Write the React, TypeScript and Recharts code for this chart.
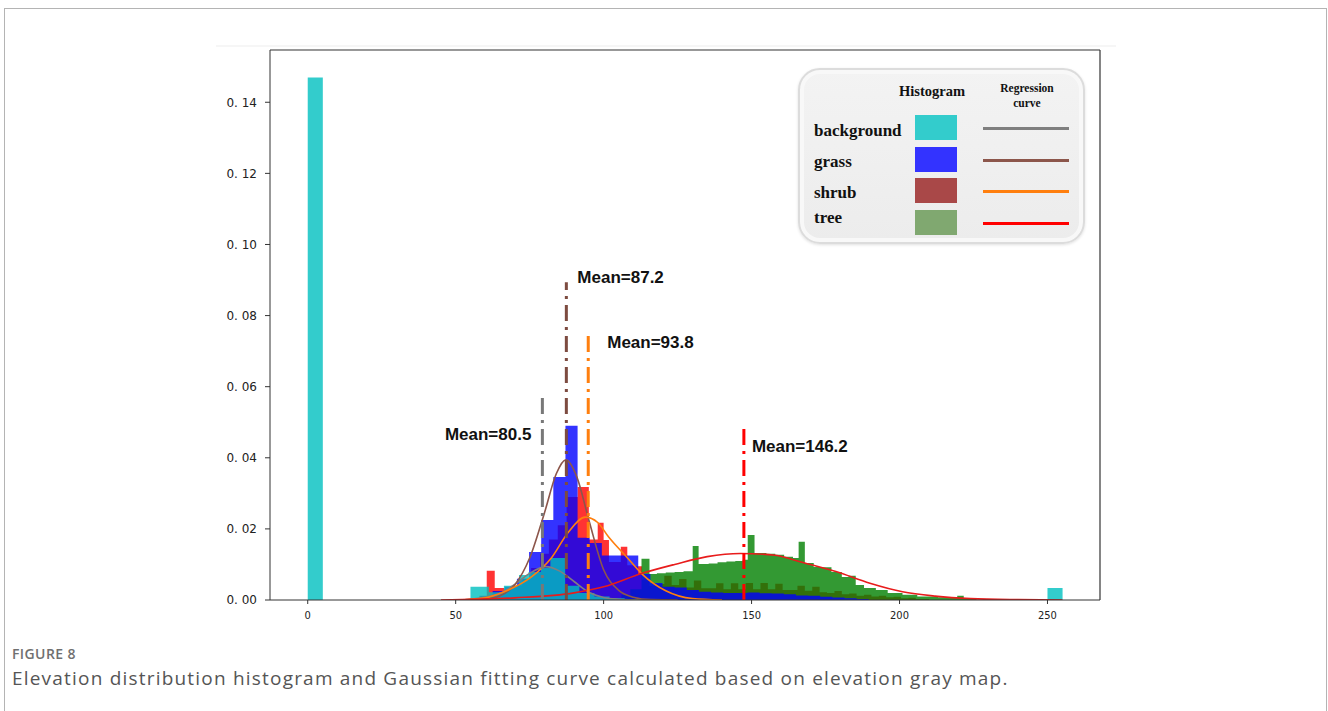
import React from "react";
import {
  ComposedChart,
  Area,
  Line,
  XAxis,
  YAxis,
  ReferenceLine,
  ReferenceDot,
} from "recharts";

const X_MIN = -12.75;
const X_MAX = 267.75;
const Y_MAX = 0.1547;
const X_TICKS = [0, 50, 100, 150, 200, 250];
const Y_TICKS = [0, 0.02, 0.04, 0.06, 0.08, 0.1, 0.12, 0.14];

// histogram runs: left edge of each bin and its density (last entry closes the run)
const backgroundEdges = [0, 5.1, 55, 61.2, 66.3, 71.4, 74.6, 78.8, 82, 87, 91.8, 96.9, 102, 107.1, 112.2, 250, 255.1];
const backgroundHeights = [0.147, 0, 0.0037, 0.0022, 0.004, 0.007, 0.0079, 0.009, 0.0118, 0.004, 0.002, 0.001, 0.0005, 0.0003, 0, 0.0034, 0];

const grassEdges = [54.3, 58.4, 62.5, 66.6, 70.7, 74.8, 78.9, 83.0, 87.1, 91.2, 95.3, 99.4, 103.5, 107.6, 111.7, 115.8, 119.9, 124.0, 128.1, 132.2, 136.3, 140.4, 144.5, 148.6, 152.7, 156.8, 160.9, 165.0, 169.1, 173.2, 177.3, 181.4, 185.5, 189.6];
const grassHeights = [0.0003, 0.001, 0.0025, 0.0037, 0.006, 0.0135, 0.0225, 0.0346, 0.049, 0.0175, 0.016, 0.0125, 0.0125, 0.0125, 0.0073, 0.0048, 0.0037, 0.0035, 0.0028, 0.0023, 0.0021, 0.002, 0.002, 0.0021, 0.0019, 0.0018, 0.0016, 0.0013, 0.0012, 0.0009, 0.0007, 0.0005, 0.0003, 0];

const shrubEdges = [55, 58, 60.5, 63.2, 66.5, 69.5, 72.5, 75.5, 78.5, 81.5, 84.5, 87.5, 91.2, 95, 98, 100, 101.8, 105.8, 108, 110.5, 113, 115.5, 118, 120.5, 123, 125.5, 128, 130.5, 133, 135.5, 138, 140.5, 143, 145.5, 148, 150.5, 153, 155.5, 158, 160.5, 163, 165.5, 168, 170.5, 173, 175.5, 178, 180.5, 183, 185.5, 188, 190.5, 193, 195.5, 198, 200.5, 203, 205.5, 210];
const shrubHeights = [0.0005, 0.0012, 0.0082, 0.0034, 0.003, 0.004, 0.006, 0.009, 0.013, 0.017, 0.021, 0.029, 0.0318, 0.017, 0.0217, 0.0169, 0.0107, 0.015, 0.0098, 0.0095, 0.006, 0.004, 0.0045, 0.0068, 0.0042, 0.0059, 0.0035, 0.0055, 0.0033, 0.0033, 0.0047, 0.003, 0.0047, 0.003, 0.0048, 0.003, 0.0048, 0.003, 0.0046, 0.0028, 0.0028, 0.004, 0.0026, 0.0037, 0.0022, 0.002, 0.0025, 0.0016, 0.0018, 0.0012, 0.0015, 0.001, 0.0012, 0.0008, 0.0009, 0.0005, 0.0006, 0.0003, 0];

const treeEdges = [106, 109, 112.8, 115.5, 118, 121, 124, 127, 130.1, 132.1, 135.5, 138.5, 141.5, 144.5, 147, 148.7, 151, 155, 158, 161, 164, 165.9, 168, 171, 174, 177, 180.5, 182.8, 185.2, 188, 192, 196, 201, 206, 213, 219.5, 221.7, 226];
const treeHeights = [0.0015, 0.003, 0.0116, 0.0073, 0.0075, 0.0077, 0.0079, 0.0081, 0.0152, 0.0101, 0.0103, 0.0106, 0.0108, 0.011, 0.0113, 0.0183, 0.0132, 0.013, 0.0127, 0.0122, 0.0118, 0.0164, 0.0104, 0.0093, 0.0092, 0.0079, 0.0065, 0.0068, 0.0042, 0.0034, 0.0028, 0.002, 0.0015, 0.001, 0.0008, 0.0012, 0.0005, 0];

// fitted curves
const backgroundCurveX = [50, 55, 60, 65, 70, 75, 80.5, 85, 90, 95, 100, 105, 110, 118];
const backgroundCurveY = [0, 0.0002, 0.0008, 0.0019, 0.0044, 0.0075, 0.0094, 0.0082, 0.0052, 0.0022, 0.0007, 0.0002, 0.00005, 0];
const grassCurveX = [50, 60, 65, 70, 75, 80, 84, 87.2, 91, 95, 100, 105, 110, 116, 125];
const grassCurveY = [0, 0.0003, 0.0012, 0.0043, 0.0118, 0.0245, 0.0355, 0.0394, 0.0345, 0.0225, 0.0085, 0.0028, 0.0008, 0.0001, 0];
const shrubCurveX = [50, 55, 61, 67.8, 75.6, 82.4, 88, 93.8, 98, 101.7, 108, 113, 121, 130, 140];
const shrubCurveY = [0, 0.0002, 0.0008, 0.0028, 0.0065, 0.0119, 0.019, 0.0233, 0.0218, 0.0177, 0.0119, 0.0073, 0.0026, 0.0004, 0];
const treeCurveX = [45, 70, 90, 100, 113, 124, 135, 146.2, 158, 167, 178.5, 190, 201, 212, 224, 240, 255];
const treeCurveY = [0, 0.0006, 0.002, 0.0037, 0.0075, 0.01, 0.0122, 0.0131, 0.0126, 0.0106, 0.008, 0.0047, 0.0023, 0.0011, 0.0004, 0.0001, 0];

const meanLineX = [79.3, 87.4, 94.8, 147.4];
const meanLineTop = [0.0582, 0.0894, 0.0754, 0.049];
const meanLabels = ["Mean=80.5", "Mean=87.2", "Mean=93.8", "Mean=146.2"];

const classNames = ["background", "grass", "shrub", "tree"];

const pairs = (xs: number[], ys: number[]) => xs.map((x, i) => ({ x, y: ys[i] }));

const histStyle = [
  { key: "shrub", data: pairs(shrubEdges, shrubHeights), fill: "#ff0000" },
  { key: "tree", data: pairs(treeEdges, treeHeights), fill: "#008000" },
  { key: "grass", data: pairs(grassEdges, grassHeights), fill: "#0000ff" },
  { key: "background", data: pairs(backgroundEdges, backgroundHeights), fill: "#00bfbf" },
];

const curveStyle = [
  { key: "bgc", data: pairs(backgroundCurveX, backgroundCurveY), stroke: "#7f7f7f" },
  { key: "grc", data: pairs(grassCurveX, grassCurveY), stroke: "#8c564b" },
  { key: "shc", data: pairs(shrubCurveX, shrubCurveY), stroke: "#ff7f0e" },
  { key: "trc", data: pairs(treeCurveX, treeCurveY), stroke: "#e81c1c" },
];

const meanColors = ["#787878", "#7d4b40", "#ff7f0e", "#ff0000"];
// pixel offsets of each mean label from the top of its line
const labelOffsets = [
  { dx: -11, dy: 47, anchor: "end" },
  { dx: 11, dy: 1, anchor: "start" },
  { dx: 19, dy: 16, anchor: "start" },
  { dx: 8, dy: 26, anchor: "start" },
];

const swatchColors = ["#33cccc", "#3333ff", "#a94848", "#80a870"];
const legendLineColors = ["#7f7f7f", "#8c564b", "#ff7f0e", "#ff0000"];
const legendRowTop = [61, 92, 123, 148];
const swatchTop = [45, 77, 108, 140];
const lineTop = [57, 89, 120, 152];

const LegendBox = () => (
  <div
    style={{
      position: "absolute",
      left: 798,
      top: 68,
      width: 287,
      height: 176,
      boxSizing: "border-box",
      borderRadius: 22,
      border: "2px solid #dcdcdc",
      background: "linear-gradient(#f3f3f3, #ececec)",
      boxShadow: "inset 0 0 0 4px #f8f8f8, 0 1px 3px rgba(0,0,0,0.12)",
      fontFamily: '"Liberation Serif", "Times New Roman", serif',
      fontWeight: "bold",
      color: "#111",
    }}
  >
    <div style={{ position: "absolute", left: 132, top: 21, transform: "translate(-50%, -50%)", fontSize: 14.5, whiteSpace: "nowrap" }}>
      Histogram
    </div>
    <div style={{ position: "absolute", left: 227, top: 26, transform: "translate(-50%, -50%)", fontSize: 11.5, lineHeight: "15px", textAlign: "center" }}>
      Regression
      <br />
      curve
    </div>
    {classNames.map((name, i) => (
      <React.Fragment key={name}>
        <div style={{ position: "absolute", left: 14, top: legendRowTop[i], transform: "translateY(-50%)", fontSize: 17 }}>
          {name}
        </div>
        <div style={{ position: "absolute", left: 115, top: swatchTop[i], width: 42, height: 25, background: swatchColors[i] }} />
        <div style={{ position: "absolute", left: 183, top: lineTop[i], width: 86, height: 3, background: legendLineColors[i] }} />
      </React.Fragment>
    ))}
  </div>
);

const MeanText = (i: number) => (p: any) => (
  <text
    x={p.cx + labelOffsets[i].dx}
    y={p.cy + labelOffsets[i].dy}
    textAnchor={labelOffsets[i].anchor as any}
    fontFamily='"Liberation Sans", Arial, sans-serif'
    fontWeight="bold"
    fontSize={17}
    fill="#111"
  >
    {meanLabels[i]}
  </text>
);

export default function App() {
  return (
    <div style={{ position: "absolute", left: 0, top: 0, width: 1328, height: 711, overflow: "hidden", background: "#fff", fontFamily: '"Liberation Sans", Arial, sans-serif' }}>
      <div style={{ position: "absolute", left: 4, top: 8, width: 1323, height: 760, boxSizing: "border-box", border: "1px solid #b4b4b4" }} />
      <div style={{ position: "absolute", left: 216, top: 45, width: 900, height: 2, background: "#f6f6f6" }} />
      <div style={{ position: "absolute", left: 0, top: 0 }}>
        <ComposedChart width={1328} height={711} margin={{ top: 50, right: 228, bottom: 81, left: 210 }}>
          <XAxis
            type="number"
            dataKey="x"
            domain={[X_MIN, X_MAX]}
            ticks={X_TICKS}
            allowDataOverflow
            height={30}
            tickSize={4}
            tickMargin={7}
            stroke="#333"
            tick={{ fill: "#222", fontSize: 11, fontFamily: '"Liberation Sans Narrow", "DejaVu Sans Condensed", "Liberation Sans", sans-serif' }}
          />
          <YAxis
            type="number"
            dataKey="y"
            domain={[0, Y_MAX]}
            ticks={Y_TICKS}
            allowDataOverflow
            width={60}
            tickSize={5}
            tickMargin={8}
            stroke="#333"
            tickFormatter={(v: number) => v.toFixed(2).replace(".", ". ")}
            tick={{ fill: "#222", fontSize: 12, fontFamily: '"DejaVu Sans", sans-serif' }}
          />
          {histStyle.map((h) => (
            <Area
              key={h.key}
              data={h.data}
              dataKey="y"
              type="stepAfter"
              stroke="none"
              fill={h.fill}
              fillOpacity={0.8}
              isAnimationActive={false}
            />
          ))}
          {curveStyle.map((c) => (
            <Line
              key={c.key}
              data={c.data}
              dataKey="y"
              type="monotone"
              stroke={c.stroke}
              strokeWidth={1.6}
              dot={false}
              activeDot={false}
              isAnimationActive={false}
            />
          ))}
          {meanLineX.map((mx, i) => (
            <ReferenceLine
              key={"m" + i}
              segment={[
                { x: mx, y: 0 },
                { x: mx, y: meanLineTop[i] },
              ]}
              stroke={meanColors[i]}
              strokeWidth={3}
              strokeDasharray="16 6 3 6"
            />
          ))}
          {meanLineX.map((mx, i) => (
            <ReferenceDot key={"t" + i} x={mx} y={meanLineTop[i]} r={0} shape={MeanText(i)} />
          ))}
          <ReferenceLine y={Y_MAX} stroke="#333" strokeWidth={1.2} />
          <ReferenceLine x={X_MAX} stroke="#333" strokeWidth={1.2} />
        </ComposedChart>
      </div>
      <LegendBox />
      <div style={{ position: "absolute", left: 12, top: 644, fontSize: 14, letterSpacing: 0.4, color: "#707070", fontFamily: '"Open Sans", sans-serif', fontWeight: 600 }}>
        FIGURE 8
      </div>
      <div style={{ position: "absolute", left: 12, top: 665, fontSize: 19, letterSpacing: 1.2, color: "#555", fontFamily: '"Open Sans", sans-serif', whiteSpace: "nowrap" }}>
        Elevation distribution histogram and Gaussian fitting curve calculated based on elevation gray map.
      </div>
    </div>
  );
}
